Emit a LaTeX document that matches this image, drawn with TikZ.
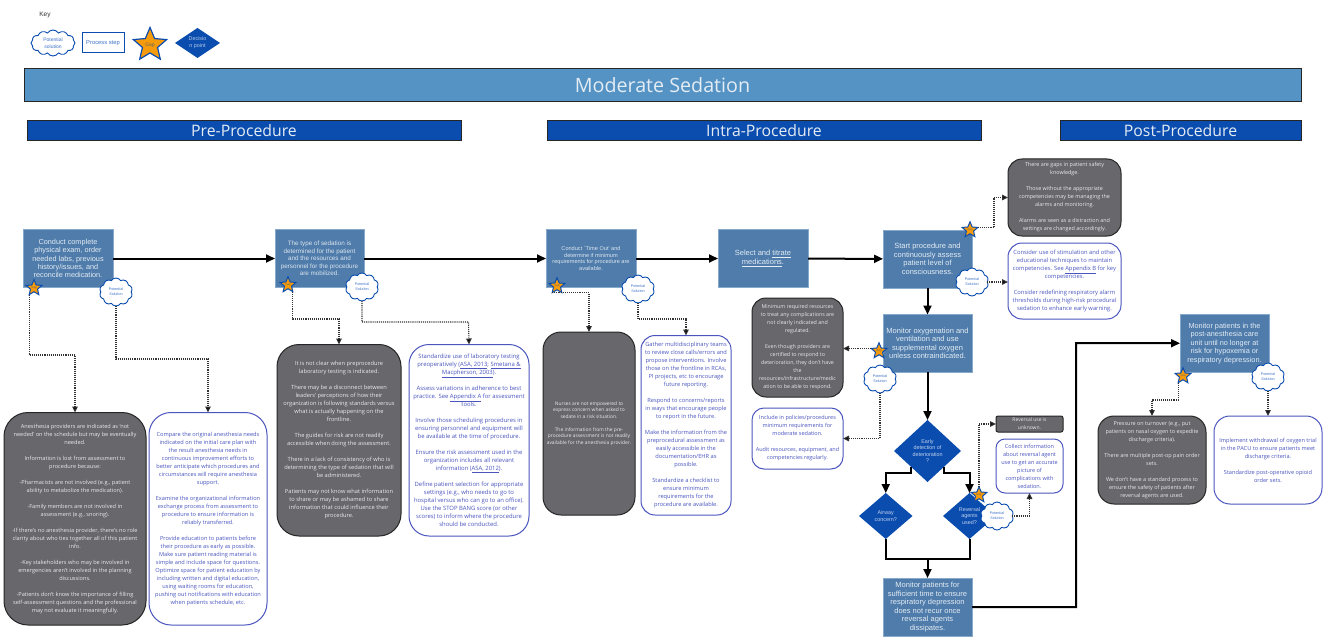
\documentclass[tikz,border=0pt]{standalone}
\usepackage{fontspec}
\setmainfont{Open Sans}
\newfontfamily\arialf{Liberation Sans}
\usetikzlibrary{shapes.geometric,shapes.symbols,arrows.meta,calc}
\definecolor{stepfill}{HTML}{4F7CAB}
\definecolor{stepedge}{HTML}{86AACC}
\definecolor{navy}{HTML}{0B4DAF}
\definecolor{titlefill}{HTML}{5593C4}
\definecolor{gapfill}{HTML}{67676C}
\definecolor{solblue}{HTML}{4A55BE}
\definecolor{cloudtext}{HTML}{3F72C8}
\definecolor{starfill}{HTML}{F59B0C}
\definecolor{lighttext}{HTML}{E4ECF4}
\newcommand{\fnt}[2]{\fontsize{#1}{#2}\selectfont}
\newcommand{\bl}{\\[\baselineskip]}
\newcommand{\bx}[8]{\node[#2,font={#7},minimum width={(#5-#3)*1pt},minimum height={(#6-#4)*1pt}] (#1) at ({(#3+#5)/2},{(#4+#6)/2}) {#8};}
\newcommand{\gapstar}[3]{\node[gapstar] (#1) at (#2,#3) {Gap};}
\newcommand{\solcloud}[3]{\node[solcloud] (#1) at (#2,#3) {Potential\\Solution};}
\tikzset{
 base/.style={inner sep=0pt,outer sep=0pt,align=center},
 stepbox/.style={base,fill=stepfill,draw=stepedge,line width=.6pt,text=lighttext},
 gapbox/.style={base,fill=gapfill,draw=black!85,line width=1pt,text=white!92!black,rounded corners=#1},
 solbox/.style={base,fill=white,draw=solblue,line width=1pt,text=solblue,rounded corners=#1},
 gapstar/.style={base,star,star points=5,star point ratio=2.2,minimum size=14pt,fill=starfill,draw=navy,line width=1pt,text=black!60,font={\arialf\fnt{2.8}{3}}},
 solcloud/.style={base,cloud,cloud puffs=10,cloud puff arc=115,aspect=1.15,minimum width=33pt,minimum height=28pt,fill=white,draw=navy,line width=.9pt,text=cloudtext,font={\arialf\fnt{3.7}{5.2}}},
 decide/.style={base,diamond,aspect=1,fill=navy,text=white!75!navy,font={\arialf\fnt{5.4}{6.6}}},
 mainarrow/.style={line width=2pt,black,-{Triangle[length=9pt,width=8pt]}},
 mainline/.style={line width=2pt,black},
 dotline/.style={line width=1.1pt,black!80,densely dotted,-{Triangle[length=6pt,width=5.5pt,fill=black]}},
}
\begin{document}
\begin{tikzpicture}[x=1pt,y=-1pt]
\useasboundingbox (0,0) rectangle (1327,639);
\fill[white] (0,0) rectangle (1327,639);
% key
\node[base,font={\arialf\fnt{6.5}{8}},text=black!80] (keylabel) at (45,15) {Key};
\node[base,cloud,cloud puffs=12,cloud puff arc=115,aspect=1.7,minimum width=44pt,minimum height=26pt,draw=navy,fill=white,line width=.9pt,text=cloudtext,font={\arialf\fnt{5}{6.8}}] (keycloud) at (53,43) {Potential\\solution};
\bx{keystep}{base,draw=navy,fill=white,line width=1pt,text=cloudtext}{82}{33}{124}{53}{\arialf\fnt{5.8}{7}}{Process step}
\node[base,star,star points=5,star point ratio=2.2,minimum size=35pt,fill=starfill,draw=navy,line width=1.2pt,text=black!60,font={\arialf\fnt{5}{6}}] (keystar) at (150,45) {Gap};
\bx{keydec}{base,diamond,aspect=1.5,fill=navy,text=white!70!navy}{175}{28}{220}{58}{\arialf\fnt{5.4}{7}}{Decisio\\n point}
% titles
\bx{title}{base,fill=titlefill,draw=black!85,line width=1pt,text=lighttext}{24}{69}{1301}{102}{\fnt{19.7}{23}}{Moderate Sedation}
\bx{hpre}{base,fill=navy,draw=black!85,line width=1pt,text=lighttext}{27}{121}{461}{141}{\fnt{15.8}{18}}{Pre-Procedure}
\bx{hintra}{base,fill=navy,draw=black!85,line width=1pt,text=lighttext}{547}{121}{981}{141}{\fnt{15.8}{18}}{Intra-Procedure}
\bx{hpost}{base,fill=navy,draw=black!85,line width=1pt,text=lighttext}{1060}{121}{1301}{141}{\fnt{15.8}{18}}{Post-Procedure}
% process steps
\bx{b1}{stepbox}{23}{229.5}{113}{287.5}{\arialf\fnt{7.3}{8.4}}{Conduct complete\\physical exam, order\\needed labs, previous\\history/issues, and\\reconcile medication.}
\bx{b2}{stepbox,text=white!80!stepfill}{275}{229.5}{364}{287.5}{\arialf\fnt{6.3}{7.4}}{The type of sedation is\\determined for the patient\\and the resources and\\personnel for the procedure\\are mobilized.}
\bx{b3}{stepbox,text=white!80!stepfill}{546}{229.5}{636}{287.5}{\arialf\fnt{5.6}{6.6}}{Conduct `Time Out' and\\determine if minimum\\requirements for procedure are\\available.}
\bx{b4}{stepbox}{718}{229.5}{808}{287.5}{\arialf\fnt{7.5}{8.8}}{Select and \underline{titrate}\\\underline{medications}.}
\bx{b5}{stepbox}{883}{230}{972}{288}{\arialf\fnt{7.5}{8.6}}{Start procedure and\\continuously assess\\patient level of\\consciousness.}
\bx{b6}{stepbox}{883}{314.5}{972}{372}{\arialf\fnt{7.5}{8.6}}{Monitor oxygenation and\\ventilation and use\\supplemental oxygen\\unless contraindicated.}
\bx{b7}{stepbox}{883}{578}{972}{636}{\arialf\fnt{7.5}{8.5}}{Monitor patients for\\sufficient time to ensure\\respiratory depression\\does not recur once\\reversal agents\\dissipates.}
\bx{b8}{stepbox}{1180}{314.5}{1269}{372}{\arialf\fnt{7.3}{8.5}}{Monitor patients in the\\post-anesthesia care\\unit until no longer at\\risk for hypoxemia or\\respiratory depression.}
% decisions
\bx{d1}{decide}{894}{420}{961}{482}{\arialf\fnt{5.4}{6.6}}{Early\\detection of\\deterioration\\?}
\bx{d2}{decide}{859}{493}{912.5}{539}{\arialf\fnt{5.4}{6.6}}{Airway\\concern?}
\bx{d3}{decide}{943}{493}{996}{539}{\arialf\fnt{5.4}{6.6}}{Reversal\\agents\\used?}
% gap boxes
\bx{g1}{gapbox=24pt}{4}{412.5}{146}{625}{\fnt{5.6}{8}}{Anesthesia providers are indicated as `not\\needed' on the schedule but may be eventually\\needed.\bl Information is lost from assessment to\\procedure because:\bl -Pharmacists are not involved (e.g., patient\\ability to metabolize the medication).\bl -Family members are not involved in\\assessment (e.g., snoring).\bl -If there's no anesthesia provider, there's no role\\clarity about who ties together all of this patient\\info.\bl -Key stakeholders who may be involved in\\emergencies aren't involved in the planning\\discussions.\bl -Patients don't know the importance of filling\\self-assessment questions and the professional\\may not evaluate it meaningfully.}
\bx{g2}{gapbox=22pt}{277}{344.5}{401}{536}{\fnt{5.7}{8}}{It is not clear when preprocedure\\laboratory testing is indicated.\bl There may be a disconnect between\\leaders' perceptions of how their\\organization is following standards versus\\what is actually happening on the\\frontline.\bl The guides for risk are not readily\\accessible when doing the assessment.\bl There in a lack of consistency of who is\\determining the type of sedation that will\\be administered.\bl Patients may not know what information\\to share or may be ashamed to share\\information that could influence their\\procedure.}
\bx{g3}{gapbox=18pt}{543}{332}{635}{515}{\fnt{4.9}{6.5}}{Nurses are not empowered to\\express concern when asked to\\sedate in a risk situation.\bl The information from the pre-\\procedure assessment is not readily\\available for the anesthesia provider.}
\bx{g5}{gapbox=14pt}{1008}{159}{1121}{236}{\fnt{5.4}{8}}{There are gaps in patient safety\\knowledge.\bl Those without the appropriate\\competencies may be managing the\\alarms and monitoring.\bl Alarms are seen as a distraction and\\settings are changed accordingly.}
\bx{g6}{gapbox=14pt}{752}{298}{843}{397}{\fnt{5.3}{8}}{Minimum required resources\\to treat any complications are\\not clearly indicated and\\regulated.\bl Even though providers are\\certified to respond to\\deterioration, they don't have\\the\\resources/infrastructure/medic\\ation to be able to respond.}
\bx{g8}{gapbox=16pt}{1098}{416}{1206}{504}{\fnt{5.45}{8}}{Pressure on turnover (e.g., put\\patients on nasal oxygen to expedite\\discharge criteria).\bl There are multiple post-op pain order\\sets.\bl We don't have a standard process to\\ensure the safety of patients after\\reversal agents are used.}
\bx{g9}{gapbox=2pt}{996}{416}{1063}{432}{\fnt{5}{8}}{Reversal use is\\unknown.}
% solution boxes
\bx{s1b}{solbox=22pt}{149}{412.5}{267}{625}{\fnt{5.65}{8}}{Compare the original anesthesia needs\\indicated on the initial care plan with\\the result anesthesia needs in\\continuous improvement efforts to\\better anticipate which procedures and\\circumstances will require anesthesia\\support.\bl Examine the organizational information\\exchange process from assessment to\\procedure to ensure information is\\reliably transferred.\bl Provide education to patients before\\their procedure as early as possible.\\Make sure patient reading material is\\simple and include space for questions.\\Optimize space for patient education by\\including written and digital education,\\using waiting rooms for education,\\pushing out notifications with education\\when patients schedule, etc.}
\bx{s2b}{solbox=20pt}{409}{344.5}{529}{536}{\fnt{5.9}{8}}{Standardize use of laboratory testing\\preoperatively (\underline{ASA, 2013}; \underline{Smetana \&}\\\underline{Macpherson, 2003}).\bl Assess variations in adherence to best\\practice. See \underline{Appendix A} for assessment\\tools.\bl Involve those scheduling procedures in\\ensuring personnel and equipment will\\be available at the time of procedure.\bl Ensure the risk assessment used in the\\organization includes all relevant\\information (\underline{ASA, 2012}).\bl Define patient selection for appropriate\\settings (e.g., who needs to go to\\hospital versus who can go to an office).\\Use the STOP BANG score (or other\\scores) to inform where the procedure\\should be conducted.}
\bx{s3b}{solbox=14pt}{641}{335.5}{731}{515}{\fnt{5.7}{8}}{Gather multidisciplinary teams\\to review close calls/errors and\\propose interventions. Involve\\those on the frontline in RCAs,\\PI projects, etc to encourage\\future reporting.\bl Respond to concerns/reports\\in ways that encourage people\\to report in the future.\bl Make the information from the\\preprocedural assessment as\\easily accessible in the\\documentation/EHR as\\possible.\bl Standardize a checklist to\\ensure minimum\\requirements for the\\procedure are available.}
\bx{s5b}{solbox=14pt}{1008}{243}{1121}{319}{\fnt{5.8}{8}}{Consider use of stimulation and other\\educational techniques to maintain\\competencies. See \underline{Appendix B} for key\\competencies.\bl Consider redefining respiratory alarm\\thresholds during high-risk procedural\\sedation to enhance early warning.}
\bx{s6b}{solbox=12pt}{752}{408}{843}{469}{\fnt{5.5}{8}}{Include in policies/procedures\\minimum requirements for\\moderate sedation.\bl Audit resources, equipment, and\\competencies regularly.}
\bx{s8b}{solbox=16pt}{1214}{416}{1322}{504}{\fnt{5.6}{8}}{Implement withdrawal of oxygen trial\\in the PACU to ensure patients meet\\discharge criteria.\bl Standardize post-operative opioid\\order sets.}
\bx{s9b}{solbox=9pt}{996}{439}{1063}{493}{\fnt{5.5}{8}}{Collect information\\about reversal agent\\use to get an accurate\\picture of\\complications with\\sedation.}
% junctions
\coordinate (j1) at (75,355);
\coordinate (k1) at (208,359);
\coordinate (j2) at (339,319);
\coordinate (k2) at (468.5,322);
\coordinate (k3) at (686,319);
\coordinate (j5) at (994,197.5);
\coordinate (j7) at (927.5,559);
\coordinate (j8) at (1076,343);
\coordinate (j9) at (1152,400);
% main flow
\draw[mainarrow] (b1) -- (b2);
\draw[mainarrow] (b2) -- (b3);
\draw[mainarrow] (b3) -- (b4);
\draw[mainarrow] (b4) -- (b5);
\draw[mainarrow] (b5) -- (b6);
\draw[mainarrow] (b6) -- (d1);
\draw[mainarrow] (d1.south west) -- ++(0,6.5) -| (d2.north);
\draw[mainarrow] (d1.south east) -- ++(0,6.5) -| (d3.north);
\draw[mainline] (d2.south) |- (j7);
\draw[mainline] (d3.south) |- (j7);
\draw[mainarrow] (j7) -- (b7.north);
\draw[mainarrow] (b7.east) -| (j8) -- (b8.west);
% markers
\gapstar{st1}{34}{288}
\gapstar{st2}{288}{285}
\gapstar{st3}{557}{286}
\gapstar{st5}{970}{230}
\gapstar{st6}{879}{351}
\gapstar{st8}{1183}{376}
\gapstar{st9}{979}{495}
\solcloud{c1}{116}{292}
\solcloud{c2}{362}{287}
\solcloud{c3}{638}{289}
\solcloud{c5}{972}{282}
\solcloud{c6}{880}{379}
\solcloud{c8}{1268}{377}
\solcloud{c9}{997}{516}
% dotted connectors
\draw[dotline] (st1.outer point 3) |- (j1) -- (g1.north);
\draw[dotline] (c1.south) |- (k1) -- (s1b.north);
\draw[dotline] (st2.outer point 4) |- (j2) -- (g2.north);
\draw[dotline] (c2.south) |- (k2) -- (s2b.north);
\draw[dotline] (st3.outer point 3) -| (g3.north);
\draw[dotline] (c3.south) |- (k3) -- (s3b.north);
\draw[dotline] (st5.outer point 5) -| (j5) -- (g5.west);
\draw[dotline] (c5.east) -- (s5b.west |- c5.east);
\draw[dotline] (st6.outer point 2) -- (g6.east |- st6.outer point 2);
\draw[dotline] (c6.south) |- (s6b.east);
\draw[dotline] (st8.outer point 3) |- (j9) -- (g8.north);
\draw[dotline] (c8.south) -- (s8b.north);
\draw[dotline] (st9.north) |- (g9.west);
\draw[dotline] (c9.east) -| (s9b.south);
\end{tikzpicture}
\end{document}
